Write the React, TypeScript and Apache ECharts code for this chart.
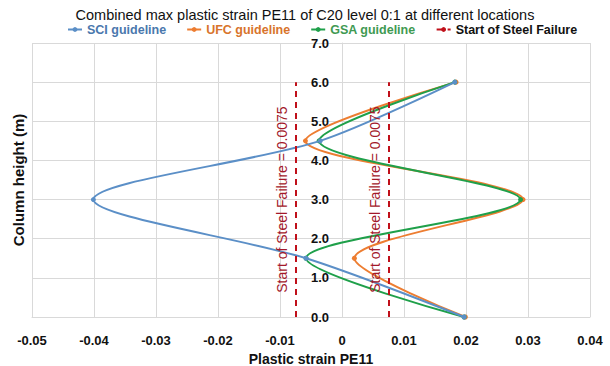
import React, { useEffect, useRef } from "react";
import * as echarts from "echarts";

// Column heights (m) at which plastic strain PE11 was sampled
const heights = [0, 1.5, 3.0, 4.5, 6.0];

// Combined max plastic strain PE11 per guideline, one value per height
const sciStrain = [0.0197, -0.0058, -0.0401, -0.0035, 0.0182];
const ufcStrain = [0.0199, 0.002, 0.0292, -0.0059, 0.0184];
const gsaStrain = [0.0197, -0.0058, 0.0288, -0.0037, 0.0182];

// Steel failure threshold (drawn at ± the strain), up to the top height
const failureStrain = 0.0075;
const failureTopHeight = 6.0;

// Axis ranges and tick steps
const xRange = [-0.05, 0.04];
const xStep = 0.01;
const yRange = [0, 7];
const yStep = 1;

const seriesNames = ["SCI guideline", "UFC guideline", "GSA guideline"];
const failureName = "Start of Steel Failure";

const FONT = "'Liberation Sans', Arial, sans-serif";
const colors = ["#5b8fc7", "#ed7d31", "#1fa04a"];
const legendTextColors = ["#4a78ad", "#d8742b", "#3f9a52"];
const failureColor = "#c0101a";
const failureTextColor = "#a3182a";
const gridColor = "#d9d9d9";

function pairs(xs: number[]) {
  return xs.map((x, i) => [x, heights[i]]);
}

export default function App() {
  const ref = useRef<HTMLDivElement>(null);

  useEffect(() => {
    if (!ref.current) return;
    const chart = echarts.init(ref.current, undefined, { renderer: "svg" });

    const strainSets = [sciStrain, ufcStrain, gsaStrain];
    const lineSeries = strainSets.map((vals, i) => ({
      name: seriesNames[i],
      type: "line",
      data: pairs(vals),
      smooth: 0.3,
      symbol: "circle",
      symbolSize: 5,
      showSymbol: true,
      lineStyle: { color: colors[i], width: 2 },
      itemStyle: { color: colors[i] },
      z: i === 0 ? 4 : 3,
    }));

    const failureLabel = `${failureName} = ${failureStrain}`;
    const failureSeries = {
      name: failureName,
      type: "line",
      data: [],
      symbol: "none",
      lineStyle: { color: failureColor, width: 2, type: [6, 5] },
      itemStyle: { color: failureColor },
      markLine: {
        silent: true,
        symbol: "none",
        lineStyle: { color: failureColor, width: 2, type: [6, 5] },
        label: {
          show: true,
          position: "insideMiddleTop",
          formatter: failureLabel,
          color: failureTextColor,
          fontFamily: FONT,
          fontSize: 14,
          distance: 7,
        },
        data: [-failureStrain, failureStrain].map((s) => [
          { coord: [s, 0] },
          { coord: [s, failureTopHeight] },
        ]),
      },
    };

    chart.setOption({
      animation: false,
      backgroundColor: "#ffffff",
      textStyle: { fontFamily: FONT },
      title: {
        text: "Combined max plastic strain PE11 of C20 level 0:1 at different locations",
        left: "center",
        top: 2,
        textStyle: {
          fontFamily: FONT,
          fontSize: 14.5,
          fontWeight: "normal",
          color: "#111111",
        },
      },
      legend: {
        top: 18,
        left: 62,
        itemWidth: 14,
        itemHeight: 6,
        itemGap: 20,
        textStyle: { fontFamily: FONT, fontSize: 12.5, fontWeight: "bold" },
        data: [
          ...seriesNames.map((n, i) => ({
            name: n,
            textStyle: { color: legendTextColors[i] },
          })),
          { name: failureName, textStyle: { color: "#111111" } },
        ],
      },
      grid: {
        left: 32,
        right: 20,
        top: 43,
        bottom: 49,
        containLabel: false,
        outerBoundsMode: "none",
      },
      xAxis: {
        type: "value",
        min: xRange[0],
        max: xRange[1],
        interval: xStep,
        name: "Plastic strain PE11",
        nameLocation: "middle",
        nameGap: 27,
        nameTextStyle: {
          fontFamily: FONT,
          fontSize: 14,
          fontWeight: "bold",
          color: "#111111",
        },
        axisLine: { show: true, onZero: false, lineStyle: { color: gridColor } },
        axisTick: { show: false },
        axisLabel: {
          fontFamily: FONT,
          fontSize: 13,
          fontWeight: "bold",
          color: "#111111",
          margin: 17,
        },
        splitLine: { show: true, lineStyle: { color: gridColor, width: 1 } },
      },
      yAxis: [
        {
          type: "value",
          min: yRange[0],
          max: yRange[1],
          interval: yStep,
          position: "left",
          axisLine: { show: true, onZero: false, lineStyle: { color: gridColor } },
          axisTick: { show: false },
          axisLabel: {
            fontFamily: FONT,
            fontSize: 13,
            fontWeight: "bold",
            color: "#111111",
            margin: 13,
            formatter: (v: number) => v.toFixed(1),
          },
          splitLine: { show: true, lineStyle: { color: gridColor, width: 1 } },
        },
        {
          type: "value",
          min: yRange[0],
          max: yRange[1],
          interval: yStep,
          position: "left",
          name: "Column height (m)",
          nameLocation: "middle",
          nameGap: 6,
          nameTextStyle: {
            fontFamily: FONT,
            fontSize: 15,
            fontWeight: "bold",
            color: "#111111",
          },
          axisLine: { show: false, onZero: false },
          axisTick: { show: false },
          axisLabel: { show: false },
          splitLine: { show: false },
        },
      ],
      series: [...lineSeries, failureSeries],
    });

    // Put the height scale on the zero-strain line, using the x scale itself
    const zeroPx = chart.convertToPixel({ xAxisIndex: 0 }, 0) as number;
    const leftPx = chart.convertToPixel({ xAxisIndex: 0 }, xRange[0]) as number;
    chart.setOption({ yAxis: [{ offset: leftPx - zeroPx }, {}] });

    return () => chart.dispose();
  }, []);

  return (
    <div
      ref={ref}
      style={{ position: "fixed", left: 0, top: 0, width: 610, height: 366 }}
    />
  );
}
